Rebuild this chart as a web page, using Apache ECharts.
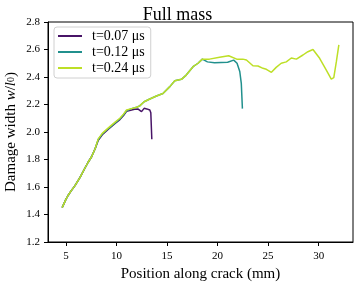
<!DOCTYPE html>
<html><head><meta charset="utf-8">
<script src="https://cdn.jsdelivr.net/npm/echarts@6/dist/echarts.min.js"></script>
<style>html,body{margin:0;padding:0;background:#fff}#c{width:355px;height:284px}</style>
</head><body><div id="c"></div>
<script>
// Data
var seriesNames = ['t=0.07 μs', 't=0.12 μs', 't=0.24 μs'];
var xTicks = [5, 10, 15, 20, 25, 30];
var yTicks = [1.2, 1.4, 1.6, 1.8, 2.0, 2.2, 2.4, 2.6, 2.8];

var x07 = [4.63,5.0,5.23,5.5,5.9,6.4,6.9,7.2,7.54,7.9,8.2,8.6,9.2,9.84,10.34,10.7,11.0,11.5,11.8,12.15,12.48,12.74,13.0,13.3,13.4,13.5];
var y07 = [1.45,1.51,1.54,1.57,1.61,1.67,1.74,1.78,1.82,1.88,1.94,1.98,2.02,2.06,2.09,2.12,2.15,2.16,2.165,2.167,2.148,2.172,2.168,2.16,2.14,1.947];

var x12 = [4.63,5.0,5.23,5.5,5.9,6.4,6.9,7.2,7.54,7.9,8.2,8.6,9.2,9.84,10.34,10.7,11.0,11.5,12.0,12.3,12.74,13.3,13.96,14.6,15.28,15.77,16.43,16.9,17.58,18.07,18.5,19.0,19.7,21.0,21.6,21.93,22.2,22.35,22.46];
var y12 = [1.45,1.51,1.54,1.57,1.61,1.67,1.74,1.78,1.82,1.88,1.945,1.985,2.025,2.065,2.095,2.125,2.155,2.17,2.18,2.19,2.22,2.24,2.262,2.28,2.33,2.373,2.383,2.414,2.475,2.50,2.53,2.51,2.504,2.507,2.523,2.50,2.44,2.354,2.17];

var x24 = [4.63,5.0,5.23,5.5,5.9,6.4,6.9,7.2,7.54,7.9,8.2,8.6,9.2,9.84,10.34,10.7,11.0,11.5,12.0,12.3,12.74,13.3,13.96,14.6,15.28,15.77,16.43,16.9,17.58,18.07,18.5,19.2,20.2,21.1,21.9,22.5,22.86,23.5,24.0,24.5,24.83,25.33,25.8,26.3,26.8,27.3,27.8,28.45,28.94,29.44,30.1,30.76,31.25,31.5,31.75,32.0];
var y24 = [1.45,1.51,1.54,1.57,1.61,1.67,1.74,1.78,1.82,1.88,1.95,1.99,2.03,2.07,2.10,2.13,2.16,2.17,2.18,2.19,2.22,2.24,2.262,2.28,2.33,2.373,2.383,2.414,2.475,2.50,2.53,2.53,2.543,2.555,2.53,2.53,2.524,2.482,2.48,2.463,2.456,2.434,2.47,2.50,2.51,2.538,2.53,2.56,2.584,2.60,2.536,2.45,2.385,2.395,2.51,2.633];

var colors = ['#481467', '#21908d', '#bddf26'];

function pairs(xs, ys) { return xs.map(function (v, i) { return [v, ys[i]]; }); }

var serif = 'Liberation Serif, DejaVu Serif, serif';
var chart = echarts.init(document.getElementById('c'), null, {renderer: 'canvas'});
chart.setOption({
  animation: false,
  backgroundColor: '#fff',
  title: {text: 'Full mass', left: 'center', top: 1,
    textStyle: {fontFamily: serif, fontSize: 18, fontWeight: 'normal', color: '#000'}},
  grid: {left: 48, right: 2, top: 22, bottom: 42, show: true, borderColor: '#000', borderWidth: 1,
    backgroundColor: 'transparent', containLabel: false, outerBoundsMode: 'none'},
  legend: {
    orient: 'vertical', left: 54, top: 27,
    data: seriesNames,
    icon: 'rect', itemWidth: 24, itemHeight: 2, itemGap: 2,
    padding: [2, 6, 3, 4],
    borderColor: '#d0d0d0', borderWidth: 1, borderRadius: 3,
    backgroundColor: 'rgba(255,255,255,0.8)',
    textStyle: {fontFamily: serif, fontSize: 14, color: '#000', padding: [0, 0, 0, 5]}
  },
  xAxis: {
    type: 'value', min: 3.23, max: 33.4,
    name: 'Position along crack (mm)', nameLocation: 'middle', nameGap: 24,
    nameTextStyle: {fontFamily: serif, fontSize: 15, color: '#000'},
    axisLine: {show: true, onZero: false, lineStyle: {color: '#000', width: 1}},
    axisTick: {show: true, length: 4, customValues: xTicks, lineStyle: {color: '#000'}},
    axisLabel: {customValues: xTicks, fontFamily: serif, fontSize: 11, color: '#000', margin: 9},
    splitLine: {show: false}
  },
  yAxis: {
    type: 'value', min: 1.2, max: 2.8, interval: 0.2,
    name: '{n|Damage width }{i|w}{n|/}{i|l}{s|0}{n|)}', nameLocation: 'middle', nameGap: 29,
    nameMoveOverlap: false,
    nameTextStyle: {fontFamily: serif, fontSize: 15, color: '#000',
      rich: {n: {fontFamily: serif, fontSize: 15, color: '#000'},
             i: {fontFamily: serif, fontStyle: 'italic', fontSize: 15, color: '#000'},
             s: {fontFamily: serif, fontSize: 10, color: '#000'}}},
    axisLine: {show: true, lineStyle: {color: '#000', width: 1}},
    axisTick: {show: true, length: 4, lineStyle: {color: '#000'}},
    axisLabel: {fontFamily: serif, fontSize: 11, color: '#000', margin: 8,
      formatter: function (v) { return v.toFixed(1); }},
    splitLine: {show: false}
  },
  series: [
    {name: seriesNames[0], type: 'line', data: pairs(x07, y07), showSymbol: false, symbol: 'none',
     lineStyle: {color: colors[0], width: 1.5}, itemStyle: {color: colors[0]}, z: 2},
    {name: seriesNames[1], type: 'line', data: pairs(x12, y12), showSymbol: false, symbol: 'none',
     lineStyle: {color: colors[1], width: 1.5}, itemStyle: {color: colors[1]}, z: 3},
    {name: seriesNames[2], type: 'line', data: pairs(x24, y24), showSymbol: false, symbol: 'none',
     lineStyle: {color: colors[2], width: 1.5}, itemStyle: {color: colors[2]}, z: 4}
  ]
});
</script></body></html>
